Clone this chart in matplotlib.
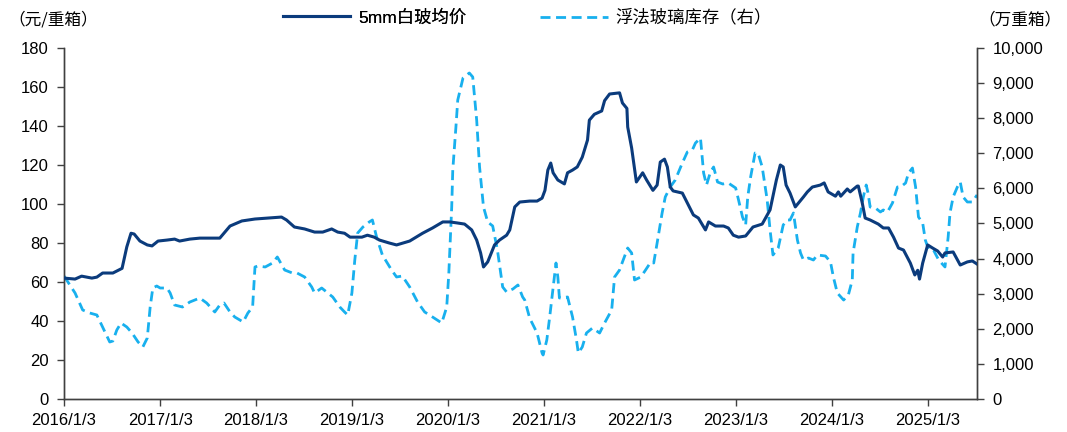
import matplotlib
matplotlib.use("Agg")
import matplotlib.pyplot as plt
from matplotlib.ticker import FuncFormatter, MultipleLocator
import pandas as pd

plt.rcParams['font.family'] = ['Liberation Sans', 'Noto Sans CJK SC', 'DejaVu Sans']

# 5mm white glass average price (yuan / weight box)
price_dates = [
    "2016-01-03", "2016-02-14", "2016-03-10", "2016-04-18", "2016-05-07", "2016-05-29",
    "2016-07-07", "2016-08-11", "2016-08-29", "2016-09-14", "2016-09-26", "2016-10-18",
    "2016-11-15", "2016-12-03", "2016-12-26", "2017-01-29", "2017-02-27", "2017-03-18",
    "2017-04-26", "2017-06-03", "2017-06-29", "2017-07-30", "2017-08-18", "2017-09-26",
    "2017-11-10", "2017-12-30", "2018-02-18", "2018-04-10", "2018-04-29", "2018-05-29",
    "2018-07-07", "2018-08-14", "2018-09-14", "2018-10-18", "2018-11-10", "2018-12-06",
    "2018-12-27", "2019-02-10", "2019-03-03", "2019-03-29", "2019-04-18", "2019-05-25",
    "2019-06-22", "2019-08-11", "2019-09-29", "2019-11-06", "2019-12-15", "2020-01-11",
    "2020-02-07", "2020-03-07", "2020-04-03", "2020-04-22", "2020-05-07", "2020-05-18",
    "2020-06-03", "2020-06-29", "2020-07-18", "2020-08-14", "2020-08-26", "2020-09-14",
    "2020-10-03", "2020-11-10", "2020-12-08", "2020-12-27", "2021-01-07", "2021-01-18",
    "2021-01-29", "2021-02-07", "2021-02-25", "2021-03-22", "2021-04-03", "2021-04-22",
    "2021-05-10", "2021-05-29", "2021-06-18", "2021-06-25", "2021-07-14", "2021-08-11",
    "2021-08-22", "2021-09-10", "2021-10-18", "2021-10-29", "2021-11-15", "2021-11-18",
    "2021-12-03", "2021-12-21", "2022-01-14", "2022-01-29", "2022-02-22", "2022-03-10",
    "2022-03-22", "2022-04-07", "2022-04-18", "2022-04-29", "2022-05-10", "2022-06-14",
    "2022-07-03", "2022-07-26", "2022-08-14", "2022-09-10", "2022-09-22", "2022-10-18",
    "2022-11-18", "2022-12-06", "2022-12-25", "2023-01-14", "2023-02-10", "2023-03-10",
    "2023-04-14", "2023-05-14", "2023-06-07", "2023-06-22", "2023-07-03", "2023-07-14",
    "2023-07-29", "2023-08-18", "2023-09-18", "2023-10-03", "2023-10-22", "2023-11-21",
    "2023-12-06", "2023-12-21", "2024-01-18", "2024-01-29", "2024-02-07", "2024-03-03",
    "2024-03-14", "2024-04-10", "2024-04-14", "2024-04-29", "2024-05-10", "2024-05-29",
    "2024-06-29", "2024-07-18", "2024-08-07", "2024-08-26", "2024-09-14", "2024-10-03",
    "2024-10-29", "2024-11-15", "2024-11-26", "2024-12-03", "2024-12-15", "2025-01-03",
    "2025-01-22", "2025-02-10", "2025-03-01", "2025-03-10", "2025-04-10", "2025-05-07",
    "2025-06-03", "2025-06-22", "2025-07-10",
]
price_values = [
    62.0, 61.5, 63.0, 62.0, 62.5, 64.6,
    64.6, 67.0, 78.0, 85.0, 84.6, 81.0,
    79.0, 78.5, 81.0, 81.5, 82.0, 81.0,
    82.0, 82.5, 82.5, 82.5, 82.5, 88.7,
    91.3, 92.3, 92.8, 93.3, 91.8, 88.2,
    87.2, 85.6, 85.6, 87.2, 85.6, 85.0,
    83.0, 83.0, 84.0, 83.0, 81.5, 80.0,
    79.0, 81.0, 85.0, 87.7, 90.8, 90.8,
    90.3, 89.7, 86.7, 81.5, 74.9, 67.7,
    70.3, 79.0, 81.5, 84.0, 86.7, 98.5,
    101.0, 101.5, 101.5, 103.0, 107.0, 117.4,
    121.0, 116.0, 112.3, 110.3, 116.0, 117.4,
    119.0, 124.0, 132.8, 143.0, 146.0, 147.7,
    153.0, 156.4, 157.0, 151.8, 149.0, 139.5,
    128.7, 111.3, 116.0, 112.3, 107.0, 109.7,
    121.5, 123.0, 119.0, 108.7, 106.7, 105.6,
    100.5, 94.4, 92.8, 86.7, 90.8, 88.7,
    88.7, 87.7, 84.0, 83.0, 83.6, 88.2,
    89.7, 97.0, 112.3, 120.0, 119.0, 109.7,
    105.6, 98.5, 103.6, 106.2, 108.7, 109.7,
    110.8, 106.2, 104.0, 106.2, 104.0, 107.7,
    106.2, 109.2, 109.2, 100.5, 92.8, 91.8,
    89.7, 87.7, 87.7, 83.0, 77.4, 76.4,
    69.7, 63.6, 66.0, 61.5, 69.7, 79.0,
    77.4, 75.9, 72.8, 74.9, 75.4, 68.7,
    70.3, 70.8, 69.2,
]

# Float glass inventory (10k weight boxes, right axis)
stock_dates = [
    "2016-01-03", "2016-01-18", "2016-02-14", "2016-03-14", "2016-04-10", "2016-05-07",
    "2016-05-29", "2016-06-25", "2016-07-07", "2016-07-22", "2016-08-07", "2016-08-29",
    "2016-09-18", "2016-10-11", "2016-10-29", "2016-11-15", "2016-11-26", "2016-12-06",
    "2016-12-21", "2017-01-03", "2017-01-29", "2017-02-10", "2017-02-27", "2017-03-29",
    "2017-04-26", "2017-06-03", "2017-06-29", "2017-07-30", "2017-08-18", "2017-09-03",
    "2017-09-26", "2017-10-14", "2017-11-15", "2017-12-03", "2017-12-21", "2017-12-30",
    "2018-01-10", "2018-02-07", "2018-03-07", "2018-03-25", "2018-04-22", "2018-05-21",
    "2018-06-08", "2018-07-07", "2018-08-03", "2018-08-14", "2018-09-10", "2018-10-03",
    "2018-10-22", "2018-11-18", "2018-12-06", "2018-12-18", "2019-01-03", "2019-01-14",
    "2019-01-25", "2019-02-14", "2019-03-10", "2019-03-22", "2019-04-07", "2019-04-29",
    "2019-06-03", "2019-06-22", "2019-07-14", "2019-08-11", "2019-09-10", "2019-10-07",
    "2019-11-06", "2019-12-11", "2019-12-30", "2020-01-07", "2020-01-18", "2020-01-22",
    "2020-02-03", "2020-02-10", "2020-03-01", "2020-03-25", "2020-04-07", "2020-04-22",
    "2020-05-03", "2020-05-18", "2020-06-03", "2020-06-22", "2020-07-10", "2020-07-30",
    "2020-08-14", "2020-09-07", "2020-09-26", "2020-10-14", "2020-10-22", "2020-11-10",
    "2020-12-08", "2020-12-27", "2020-12-31", "2021-01-14", "2021-01-25", "2021-02-07",
    "2021-02-18", "2021-02-25", "2021-03-03", "2021-04-03", "2021-04-22", "2021-05-07",
    "2021-05-14", "2021-05-29", "2021-06-14", "2021-07-07", "2021-08-03", "2021-08-22",
    "2021-09-18", "2021-09-29", "2021-10-18", "2021-10-29", "2021-11-18", "2021-12-03",
    "2021-12-14", "2022-01-07", "2022-01-25", "2022-02-14", "2022-02-25", "2022-03-10",
    "2022-03-29", "2022-04-10", "2022-04-29", "2022-05-18", "2022-06-14", "2022-07-03",
    "2022-07-22", "2022-08-03", "2022-08-22", "2022-09-03", "2022-09-14", "2022-09-29",
    "2022-10-11", "2022-10-26", "2022-11-15", "2022-12-06", "2023-01-03", "2023-01-14",
    "2023-01-29", "2023-02-10", "2023-02-18", "2023-03-01", "2023-03-18", "2023-03-29",
    "2023-04-14", "2023-05-03", "2023-05-14", "2023-05-25", "2023-06-14", "2023-07-03",
    "2023-07-18", "2023-07-29", "2023-08-11", "2023-08-26", "2023-09-07", "2023-09-18",
    "2023-10-07", "2023-10-26", "2023-11-10", "2023-12-11", "2023-12-30", "2024-01-10",
    "2024-01-25", "2024-02-18", "2024-03-07", "2024-03-22", "2024-03-25", "2024-04-10",
    "2024-04-22", "2024-05-03", "2024-05-14", "2024-05-21", "2024-05-29", "2024-06-18",
    "2024-07-07", "2024-07-18", "2024-08-03", "2024-08-22", "2024-09-10", "2024-09-22",
    "2024-10-11", "2024-10-22", "2024-11-06", "2024-11-18", "2024-11-29", "2024-12-15",
    "2024-12-25", "2025-01-07", "2025-01-25", "2025-02-14", "2025-03-10", "2025-03-22",
    "2025-03-29", "2025-04-10", "2025-04-26", "2025-05-07", "2025-05-18", "2025-06-03",
    "2025-06-22", "2025-07-10",
]
stock_values = [
    3504, 3333, 3020, 2536, 2450, 2393,
    2051, 1624, 1652, 1966, 2165, 2051,
    1880, 1624, 1481, 1738, 2621, 3162,
    3219, 3162, 3162, 3020, 2678, 2621,
    2763, 2877, 2735, 2479, 2678, 2735,
    2479, 2336, 2194, 2450, 2621, 3761,
    3789, 3761, 3875, 4046, 3675, 3590,
    3590, 3476, 3191, 3020, 3162, 3020,
    2906, 2621, 2479, 2393, 3020, 3960,
    4729, 4900, 5043, 5100, 4615, 4103,
    3675, 3476, 3504, 3191, 2763, 2479,
    2336, 2165, 2621, 3590, 5470, 6524,
    7749, 8518, 9145, 9288, 9174, 7949,
    6610, 5470, 5043, 4929, 4245, 3191,
    3048, 3134, 3248, 2906, 2820, 2300,
    1880, 1310, 1253, 1681, 2336, 3162,
    3875, 3476, 2877, 2906, 2336, 1681,
    1310, 1481, 1880, 2023, 1880, 2165,
    2536, 3476, 3675, 3903, 4302, 4160,
    3390, 3476, 3675, 3903, 3875, 4444,
    5299, 5755, 6040, 6239, 6724, 7037,
    7094, 7293, 7436, 6439, 6097, 6467,
    6610, 6182, 6125, 6154, 6011, 5670,
    5185, 4957, 5755, 6325, 7009, 7009,
    6610, 5670, 4815, 4103, 4302, 4957,
    5100, 5100, 5299, 4530, 4160, 3960,
    4017, 3960, 4103, 4074, 3903, 3476,
    3020, 2820, 2963, 3390, 4160, 4900,
    5299, 5755, 6097, 5869, 5470, 5442,
    5328, 5385, 5328, 5584, 6040, 6040,
    6154, 6439, 6581, 6040, 5185, 5014,
    4530, 4245, 4245, 3960, 3761, 4615,
    5299, 5755, 6040, 6182, 5755, 5613,
    5613, 5812,
]

price_label = "5mm白玻均价"
stock_label = "浮法玻璃库存（右）"
left_unit = "（元/重箱）"
right_unit = "（万重箱）"
tick_years = list(range(2016, 2026))

price_x = pd.to_datetime(price_dates)
stock_x = pd.to_datetime(stock_dates)

dark = "#0B3B7C"
light = "#18B0EE"
spine_col = "#404040"

fig = plt.figure(figsize=(10.67, 4.32), dpi=100)
ax = fig.add_axes([0.060, 0.0764, 0.8557, 0.8125])
ax2 = ax.twinx()

l1, = ax.plot(price_x, price_values, color=dark, lw=2.2, label=price_label,
              solid_joinstyle="round", zorder=3)
l2, = ax2.plot(stock_x, stock_values, color=light, lw=2.0, label=stock_label,
               dashes=(3.6, 2.0), zorder=2)
ax.set_zorder(ax2.get_zorder() + 1)
ax.patch.set_visible(False)

ax.set_xlim(pd.Timestamp("2016-01-03"), pd.Timestamp("2025-07-10"))
ax.set_ylim(0, 180)
ax2.set_ylim(0, 10000)
ax.yaxis.set_major_locator(MultipleLocator(20))
ax2.yaxis.set_major_locator(MultipleLocator(1000))
ax2.yaxis.set_major_formatter(FuncFormatter(lambda v, p: f"{int(v):,}"))

ticks = [pd.Timestamp(f"{y}-01-03") for y in tick_years]
ax.set_xticks(ticks)
ax.set_xticklabels([f"{t.year}/1/3" for t in ticks])

for a in (ax, ax2):
    a.spines["top"].set_visible(False)
    for s in ("left", "right", "bottom"):
        a.spines[s].set_color(spine_col)
        a.spines[s].set_linewidth(1.0)
    a.tick_params(axis="both", direction="out", length=5, width=1.0,
                  color=spine_col, labelsize=12, labelcolor="black", pad=6)
ax.tick_params(axis="x", pad=5)

fig.text(0.008, 0.953, left_unit, fontsize=12, family=['Noto Sans CJK SC'],
         ha="left", va="center")
fig.text(0.995, 0.953, right_unit, fontsize=12, family=['Noto Sans CJK SC'],
         ha="right", va="center")

leg_kw = dict(frameon=False, fontsize=12.5, handlelength=3.9,
              handletextpad=0.45, borderpad=0, borderaxespad=0)
leg1 = fig.legend(handles=[l1], loc="center left",
                  bbox_to_anchor=(0.265, 0.960), **leg_kw)
fig.legend(handles=[l2], loc="center left",
           bbox_to_anchor=(0.506, 0.960), **leg_kw)
fig.add_artist(leg1)

fig.savefig("out.png", dpi=100)
